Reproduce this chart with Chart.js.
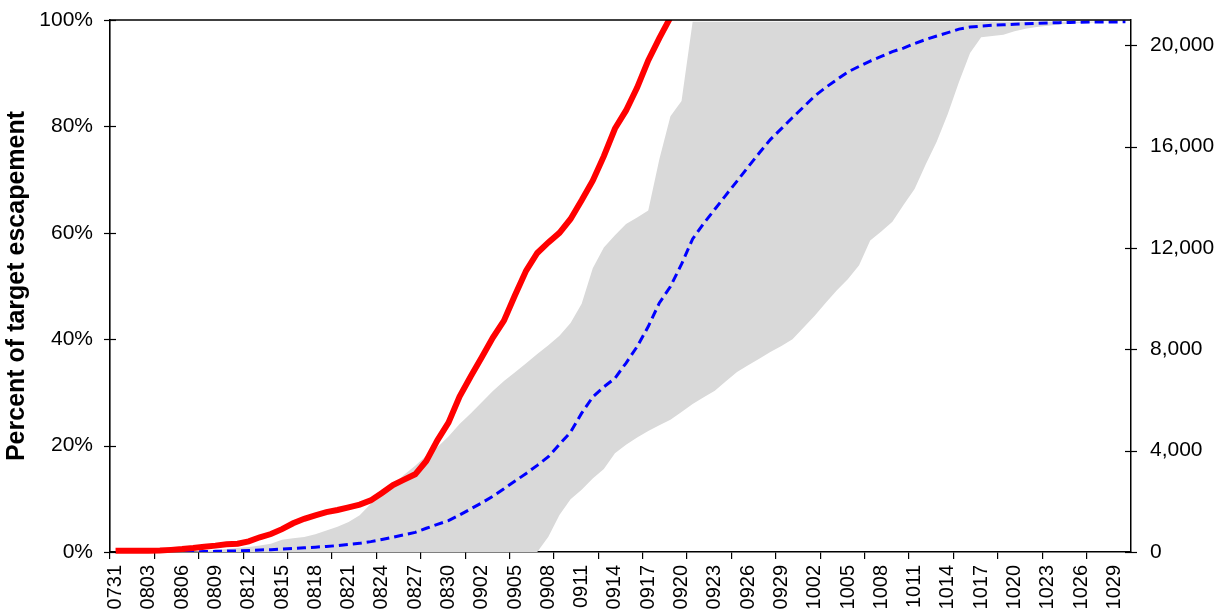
<!DOCTYPE html>
<html>
<head>
<meta charset="utf-8">
<script src="https://cdn.jsdelivr.net/npm/chart.js@4.4.1/dist/chart.umd.min.js"></script>
<style>
  html, body { margin: 0; padding: 0; background: #ffffff; }
  canvas { display: block; }
</style>
</head>
<body>
<canvas id="chart" width="1215" height="611"></canvas>
<script>
// Daily categories, 31 July to 30 October (MMDD)
const days = [
  '0731','0801','0802','0803','0804','0805','0806','0807','0808','0809',
  '0810','0811','0812','0813','0814','0815','0816','0817','0818','0819',
  '0820','0821','0822','0823','0824','0825','0826','0827','0828','0829',
  '0830','0831','0901','0902','0903','0904','0905','0906','0907','0908',
  '0909','0910','0911','0912','0913','0914','0915','0916','0917','0918',
  '0919','0920','0921','0922','0923','0924','0925','0926','0927','0928',
  '0929','0930','1001','1002','1003','1004','1005','1006','1007','1008',
  '1009','1010','1011','1012','1013','1014','1015','1016','1017','1018',
  '1019','1020','1021','1022','1023','1024','1025','1026','1027','1028',
  '1029','1030'
];

// Current season, cumulative percent of target escapement (left axis)
const currentPct = [
  0.25, 0.25, 0.25, 0.25, 0.28, 0.4, 0.55, 0.75, 1.0, 1.2,
  1.45, 1.55, 2.0, 2.77, 3.38, 4.3, 5.4, 6.24, 6.9, 7.5,
  7.9, 8.4, 8.9, 9.7, 11.1, 12.6, 13.6, 14.6, 17.1, 21.0,
  24.3, 29.2, 33.0, 36.6, 40.3, 43.5, 48.3, 52.9, 56.2, 58.2,
  60.0, 62.6, 66.1, 69.8, 74.4, 79.6, 83.0, 87.3, 92.4, 96.6,
  100.5, null, null, null, null, null, null, null, null, null,
  null, null, null, null, null, null, null, null, null, null,
  null, null, null, null, null, null, null, null, null, null,
  null, null, null, null, null, null, null, null, null, null,
  null, null
];

// Average cumulative escapement, fish (right axis)
const averageCount = [
  null, null, null, null, null, 0, 4, 8, 15, 25,
  35, 45, 60, 80, 92, 115, 136, 163, 191, 219,
  253, 297, 341, 410, 493, 585, 680, 775, 937, 1089,
  1240, 1460, 1700, 1940, 2200, 2500, 2800, 3100, 3420, 3760,
  4250, 4730, 5480, 6120, 6520, 6860, 7460, 8110, 8900, 9830,
  10480, 11360, 12360, 12970, 13530, 14090, 14640, 15200, 15750, 16280,
  16710, 17150, 17570, 18000, 18340, 18650, 18950, 19170, 19380, 19560,
  19750, 19890, 20070, 20230, 20370, 20500, 20640, 20720, 20760, 20790,
  20810, 20830, 20850, 20865, 20880, 20895, 20905, 20912, 20918, 20922,
  20925, 20928
];

// Historical range of cumulative escapement, fish (right axis)
const rangeHigh = [
  0, 0, 0, 0, 0, 0, 5, 15, 40, 80,
  120, 160, 200, 260, 330, 480, 540, 590, 700, 850,
  1000, 1180, 1450, 1900, 2250, 2650, 3050, 3400, 3800, 4130,
  4560, 5050, 5470, 5910, 6360, 6750, 7100, 7450, 7820, 8160,
  8540, 9040, 9800, 11200, 12020, 12500, 12950, 13200, 13480, 15500,
  17200, 17800, 20930, 20930, 20930, 20930, 20930, 20930, 20930, 20930,
  20930, 20930, 20930, 20930, 20930, 20930, 20930, 20930, 20930, 20930,
  20930, 20930, 20930, 20930, 20930, 20930, 20930, 20930, 20930, 20930,
  20930, 20930, 20930, 20930, 20930, 20930, 20930, 20930, 20930, 20930,
  20930, 20930
];
const rangeLow = [
  0, 0, 0, 0, 0, 0, 0, 0, 0, 0,
  0, 0, 0, 0, 0, 0, 0, 0, 0, 0,
  0, 0, 0, 0, 0, 0, 0, 0, 0, 0,
  0, 0, 0, 0, 0, 0, 0, 0, 0, 600,
  1460, 2080, 2460, 2900, 3280, 3900, 4230, 4520, 4780, 5000,
  5220, 5530, 5840, 6110, 6370, 6740, 7110, 7370, 7630, 7890,
  8130, 8400, 8860, 9330, 9840, 10330, 10780, 11320, 12300, 12650,
  13040, 13700, 14330, 15300, 16200, 17300, 18550, 19700, 20320, 20370,
  20420, 20560, 20650, 20720, 20770, 20820, 20850, 20880, 20900, 20910,
  20920, 20925
];

// Axis tick values
const pctTickValues = [0, 20, 40, 60, 80, 100];
const countTickValues = [0, 4000, 8000, 12000, 16000, 20000];
const countMax = 21000;

const FONT = "'Liberation Sans', Arial, sans-serif";

// Plot frame top edge and tick marks that cross both value axes
const frameAndTicks = {
  id: 'frameAndTicks',
  afterDatasetsDraw(chart) {
    const { ctx, chartArea: a, scales } = chart;
    ctx.save();
    ctx.strokeStyle = '#000';
    ctx.lineWidth = 1.6;
    ctx.beginPath();
    ctx.moveTo(a.left, a.top);
    ctx.lineTo(a.right, a.top);
    ctx.stroke();
    ctx.lineWidth = 1.2;
    ['y', 'y2'].forEach(id => {
      const s = scales[id];
      const x0 = id === 'y' ? a.left : a.right;
      s.ticks.forEach(t => {
        const yy = Math.round(s.getPixelForValue(t.value)) + 0.5;
        ctx.beginPath();
        ctx.moveTo(x0 - 6, yy);
        ctx.lineTo(x0 + 6, yy);
        ctx.stroke();
      });
    });
    ctx.restore();
  }
};

const fixedTicks = values => s => { s.ticks = values.map(v => ({ value: v })); };
const noVerticalPadding = width => s => { s.width = width; s.paddingTop = 0; s.paddingBottom = 0; };

new Chart(document.getElementById('chart'), {
  type: 'line',
  data: {
    labels: days,
    datasets: [
      {
        label: 'Current',
        data: currentPct,
        yAxisID: 'y',
        borderColor: '#ff0000',
        borderWidth: 6,
        pointRadius: 0,
        tension: 0,
        fill: false,
        clip: { left: 5, right: 5, top: 0, bottom: 5 }
      },
      {
        label: 'Average',
        data: averageCount,
        yAxisID: 'y2',
        borderColor: '#0000ff',
        borderWidth: 3,
        borderDash: [9, 5],
        pointRadius: 0,
        tension: 0,
        fill: false
      },
      {
        label: 'Range high',
        data: rangeHigh,
        yAxisID: 'y2',
        borderWidth: 0,
        borderColor: 'rgba(0,0,0,0)',
        backgroundColor: '#d9d9d9',
        pointRadius: 0,
        tension: 0,
        fill: '+1'
      },
      {
        label: 'Range low',
        data: rangeLow,
        yAxisID: 'y2',
        borderWidth: 0,
        borderColor: 'rgba(0,0,0,0)',
        pointRadius: 0,
        tension: 0,
        fill: false
      }
    ]
  },
  options: {
    responsive: false,
    animation: false,
    devicePixelRatio: 1,
    layout: { padding: { top: 20, left: 0, right: 0, bottom: 0 } },
    plugins: {
      legend: { display: false },
      tooltip: { enabled: false },
      title: { display: false }
    },
    scales: {
      x: {
        type: 'category',
        offset: true,
        afterFit: s => { s.height = 59; s.paddingLeft = 0; s.paddingRight = 0; },
        border: { display: true, color: '#000', width: 1.5 },
        grid: {
          display: true,
          offset: true,
          drawOnChartArea: false,
          drawTicks: true,
          tickLength: 7,
          lineWidth: 1.2,
          color: ctx => (ctx.index !== undefined && ctx.index % 4 === 0) ? '#000' : 'rgba(0,0,0,0)'
        },
        ticks: {
          autoSkip: false,
          minRotation: 90,
          maxRotation: 90,
          padding: 6,
          color: '#000',
          font: { family: FONT, size: 20 },
          callback: function (val, idx) {
            return idx % 3 === 0 ? this.getLabelForValue(val) : '';
          }
        }
      },
      y: {
        position: 'left',
        min: pctTickValues[0],
        max: pctTickValues[pctTickValues.length - 1],
        afterBuildTicks: fixedTicks(pctTickValues),
        afterFit: noVerticalPadding(110),
        border: { display: true, color: '#000', width: 1.6 },
        grid: { display: false },
        title: {
          display: true,
          text: 'Percent of target escapement',
          color: '#000',
          font: { family: FONT, size: 25, weight: 'bold' },
          padding: { top: 2, bottom: 0 }
        },
        ticks: {
          padding: 9,
          color: '#000',
          font: { family: FONT, size: 21 },
          callback: v => v + '%'
        }
      },
      y2: {
        position: 'right',
        min: 0,
        max: countMax,
        afterBuildTicks: fixedTicks(countTickValues),
        afterFit: noVerticalPadding(84),
        border: { display: true, color: '#000', width: 1.5 },
        grid: { display: false },
        ticks: {
          padding: 11,
          color: '#000',
          font: { family: FONT, size: 21 },
          callback: v => v.toLocaleString('en-US')
        }
      }
    }
  },
  plugins: [frameAndTicks]
});
</script>
</body>
</html>
